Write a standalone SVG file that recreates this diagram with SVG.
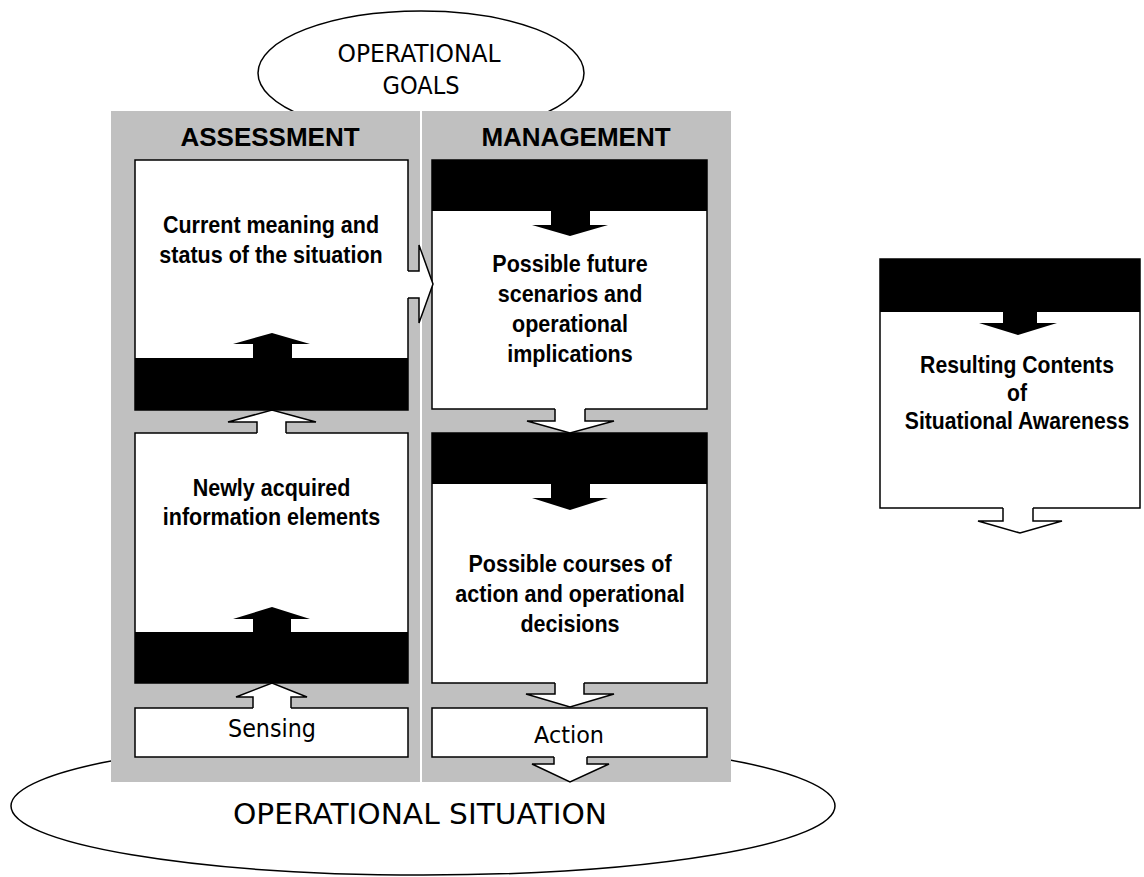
<svg xmlns="http://www.w3.org/2000/svg" width="1144" height="877" viewBox="0 0 1144 877">
<style>
.bg{fill:#fff}
.panel{fill:#c0c0c0}
.box{fill:#fff}
.band{fill:#000}
.edge{fill:none;stroke:#000;stroke-width:1.5;stroke-linejoin:miter}
.ell{fill:#fff;stroke:#000;stroke-width:1.5}
.conn{fill:#fff;stroke:#000;stroke-width:1.5;stroke-linejoin:miter}
.solid{fill:#000}
.b{font-family:"Liberation Sans",Arial,sans-serif;font-weight:bold;font-size:23.5px;text-anchor:middle;fill:#000}
.h{font-family:"Liberation Sans",Arial,sans-serif;font-weight:bold;font-size:26px;text-anchor:middle;fill:#000}
.p{font-family:"DejaVu Sans",Verdana,sans-serif;text-anchor:middle;fill:#000}
</style>
<rect class="bg" x="0" y="0" width="1144" height="877"/>

<g id="operational-goals">
  <ellipse class="ell" cx="421" cy="73" rx="163" ry="62"/>
  <text class="p" x="419" y="62" font-size="24" textLength="163" lengthAdjust="spacingAndGlyphs">OPERATIONAL</text>
  <text class="p" x="421" y="94" font-size="24" textLength="77" lengthAdjust="spacingAndGlyphs">GOALS</text>
</g>

<g id="operational-situation">
  <ellipse class="ell" cx="423" cy="806" rx="412" ry="69"/>
  <text class="p" x="420" y="824" font-size="29" textLength="374" lengthAdjust="spacingAndGlyphs">OPERATIONAL SITUATION</text>
</g>

<rect class="bg" x="419" y="111" width="4" height="671"/>

<g id="assessment-panel">
  <rect class="panel" x="111" y="111" width="309" height="671"/>
  <text class="h" x="270" y="146">ASSESSMENT</text>
</g>
<g id="management-panel">
  <rect class="panel" x="422" y="111" width="309" height="671"/>
  <text class="h" x="576" y="146">MANAGEMENT</text>
</g>

<g id="current-meaning">
  <rect class="box" x="135" y="160" width="273" height="250"/>
  <rect class="band" x="135" y="358" width="273" height="52"/>
  <path class="edge" d="M408,271 V160 H135 V410 H408 V298"/>
  <polygon class="solid" points="253,358 253,344 233,344 272,333 310,344 292,344 292,358"/>
  <g transform="translate(271,0) scale(0.915,1)">
    <text class="b" x="0" y="233">Current meaning and</text>
    <text class="b" x="0" y="263">status of the situation</text>
  </g>
</g>

<g id="newly-acquired">
  <rect class="box" x="135" y="433" width="273" height="250"/>
  <rect class="band" x="135" y="632" width="273" height="51"/>
  <path class="edge" d="M257,433 H135 V683 H408 V433 H286"/>
  <polygon class="solid" points="253,632 253,619 233,619 272,607 310,619 291,619 291,632"/>
  <g transform="translate(271.5,0) scale(0.915,1)">
    <text class="b" x="0" y="496">Newly acquired</text>
    <text class="b" x="0" y="525">information elements</text>
  </g>
</g>

<g id="sensing">
  <rect class="box" x="135" y="708" width="273" height="49"/>
  <path class="edge" d="M253,708 H135 V757 H408 V708 H291"/>
  <text class="p" x="272" y="737" font-size="24" textLength="88" lengthAdjust="spacingAndGlyphs">Sensing</text>
</g>

<g id="future-scenarios">
  <rect class="box" x="432" y="160" width="275" height="249"/>
  <rect class="band" x="432" y="160" width="275" height="51"/>
  <path class="edge" d="M555,409 H432 V160 H707 V409 H585"/>
  <polygon class="solid" points="551,211 590,211 590,225 608,225 570,236 532,225 551,225"/>
  <g transform="translate(570,0) scale(0.915,1)">
    <text class="b" x="0" y="272">Possible future</text>
    <text class="b" x="0" y="302">scenarios and</text>
    <text class="b" x="0" y="332">operational</text>
    <text class="b" x="0" y="362">implications</text>
  </g>
</g>

<g id="courses-of-action">
  <rect class="box" x="432" y="433" width="275" height="250"/>
  <rect class="band" x="432" y="433" width="275" height="51"/>
  <path class="edge" d="M555,683 H432 V433 H707 V683 H584"/>
  <polygon class="solid" points="551,484 590,484 590,498 608,498 570,510 532,498 551,498"/>
  <g transform="translate(570,0) scale(0.915,1)">
    <text class="b" x="0" y="572">Possible courses of</text>
    <text class="b" x="0" y="602">action and operational</text>
    <text class="b" x="0" y="632">decisions</text>
  </g>
</g>

<g id="action">
  <rect class="box" x="432" y="708" width="275" height="49"/>
  <path class="edge" d="M554,757 H432 V708 H707 V757 H587"/>
  <text class="p" x="569" y="743" font-size="23.5" textLength="70" lengthAdjust="spacingAndGlyphs">Action</text>
</g>

<g id="resulting-contents">
  <rect class="box" x="880" y="259" width="260" height="249"/>
  <rect class="band" x="880" y="259" width="260" height="53"/>
  <path class="edge" d="M1003,508 H880 V259 H1140 V508 H1033"/>
  <polygon class="solid" points="1003,312 1037,312 1037,323 1057,323 1018,335 979,323 1003,323"/>
  <g transform="translate(1017,0) scale(0.9,1)">
    <text class="b" x="0" y="373">Resulting Contents</text>
    <text class="b" x="0" y="401">of</text>
    <text class="b" x="0" y="429">Situational Awareness</text>
  </g>
</g>

<g id="connectors">
  <path class="conn" d="M257,433 V422 H228 L272,410 L316,422 H286 V433"/>
  <path class="conn" d="M253,708 V697 H236 L272,683 L307,697 H291 V708"/>
  <path class="conn" d="M408,271 H419 V245 L433,284 L419,323 V298 H408"/>
  <path class="conn" d="M555,409 V421 H527 L570,433 L614,421 H585 V409"/>
  <path class="conn" d="M555,683 V694 H526 L570,707 L614,694 H584 V683"/>
  <path class="conn" d="M554,757 V764 H532 L570,782 L609,764 H587 V757"/>
  <path class="conn" d="M1003,508 V521 H978 L1020,533 L1062,521 H1033 V508"/>
</g>
</svg>
